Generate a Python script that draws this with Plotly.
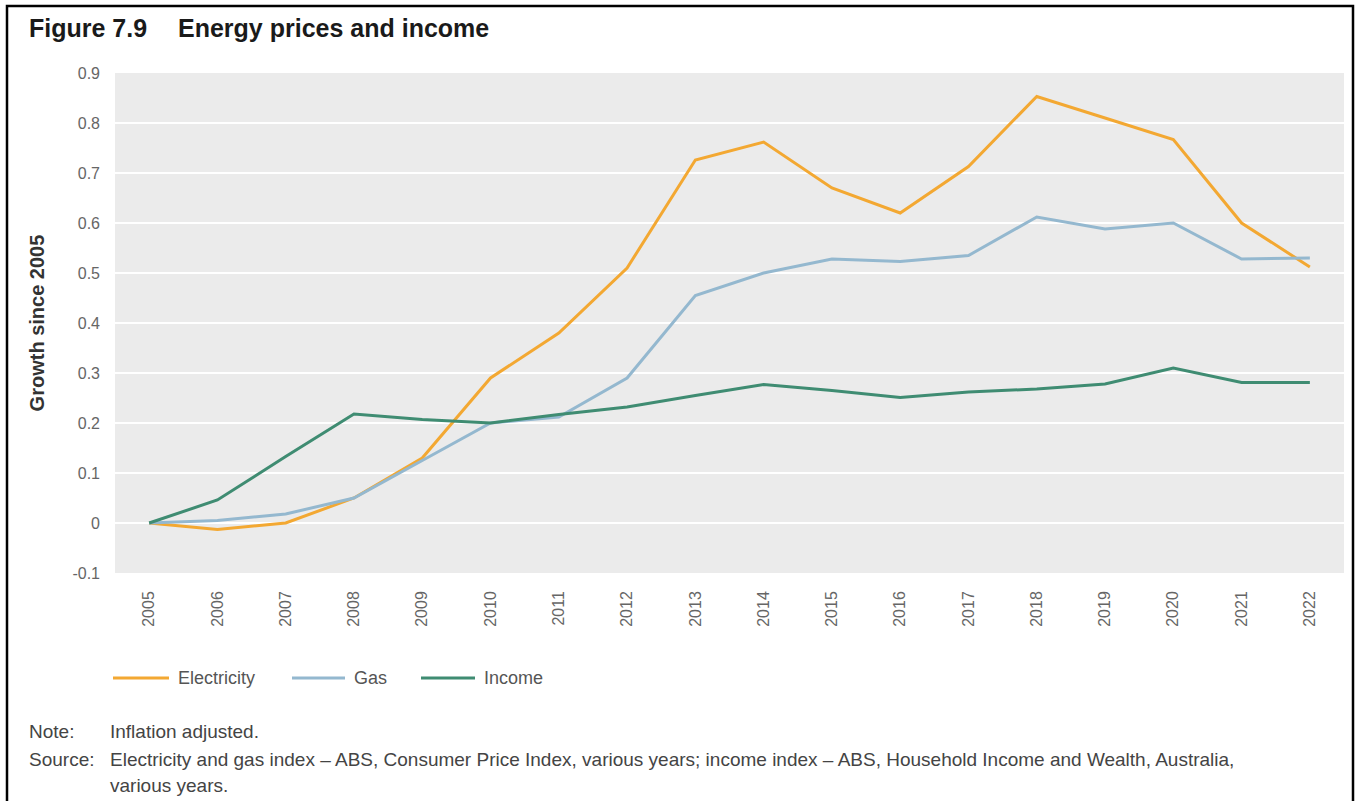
import plotly.graph_objects as go

# Figure 7.9 – Energy prices and income (growth since 2005, inflation adjusted)
years = ["2005", "2006", "2007", "2008", "2009", "2010", "2011", "2012", "2013",
         "2014", "2015", "2016", "2017", "2018", "2019", "2020", "2021", "2022"]

electricity = [0.0, -0.013, 0.0, 0.05, 0.13, 0.29, 0.38, 0.51, 0.726,
               0.762, 0.67, 0.62, 0.713, 0.853, 0.81, 0.767, 0.60, 0.512]
gas = [0.0, 0.005, 0.018, 0.05, 0.125, 0.20, 0.212, 0.29, 0.455,
       0.50, 0.528, 0.523, 0.535, 0.612, 0.588, 0.60, 0.528, 0.53]
income = [0.0, 0.046, 0.133, 0.218, 0.207, 0.20, 0.217, 0.232, 0.255,
          0.277, 0.265, 0.251, 0.262, 0.268, 0.278, 0.31, 0.281, 0.281]

y_ticks = [-0.1, 0, 0.1, 0.2, 0.3, 0.4, 0.5, 0.6, 0.7, 0.8, 0.9]
y_tick_text = ["-0.1", "0", "0.1", "0.2", "0.3", "0.4", "0.5", "0.6", "0.7", "0.8", "0.9"]

series = [
    ("Electricity", electricity, "#F3A832"),
    ("Gas", gas, "#94B8CF"),
    ("Income", income, "#3F8C72"),
]

FONT = "Liberation Sans, Arial, sans-serif"

W, H = 1359, 801
L, R, T, B = 115, 15, 73, 228
PW, PH = W - L - R, H - T - B


def px(x):
    return (x - L) / PW


def py(y):
    return (H - B - y) / PH


fig = go.Figure()
for name, vals, color in series:
    fig.add_trace(go.Scatter(
        x=years, y=vals, name=name, mode="lines",
        line=dict(color=color, width=3), showlegend=False,
    ))

fig.update_layout(
    width=W, height=H,
    margin=dict(l=L, r=R, t=T, b=B),
    paper_bgcolor="white",
    plot_bgcolor="#EBEBEB",
    font=dict(family=FONT, color="#666666", size=16),
    showlegend=False,
    xaxis=dict(
        type="category", range=[-0.5, len(years) - 0.5], tickangle=-90,
        showgrid=False, zeroline=False, showline=False, ticks="",
        ticklabelstandoff=14, tickfont=dict(size=16, color="#666666"),
    ),
    yaxis=dict(
        range=[-0.1, 0.9], tickvals=y_ticks, ticktext=y_tick_text,
        showgrid=True, gridcolor="white", gridwidth=2, zeroline=False,
        showline=False, ticks="", ticklabelstandoff=14,
        tickfont=dict(size=16, color="#666666"),
        title=dict(text="<b>Growth since 2005</b>", standoff=22,
                   font=dict(size=20, color="#333333")),
    ),
)

# Series key below the axis
key_items = [(113, 169, 176), (292, 345, 352), (421, 475, 482)]
key_y = 678
for (x0, x1, xt), (name, _, color) in zip(key_items, series):
    fig.add_shape(
        type="line", xref="paper", yref="paper",
        x0=px(x0), x1=px(x1), y0=py(key_y), y1=py(key_y),
        line=dict(color=color, width=3),
    )
    fig.add_annotation(
        x=px(xt), y=py(key_y), xref="paper", yref="paper", xanchor="left",
        yanchor="middle", text=name, showarrow=False,
        font=dict(size=18, color="#555555", family=FONT),
    )

# Heading
fig.add_annotation(
    x=px(27), y=py(28), xref="paper", yref="paper", xanchor="left", yanchor="middle",
    text="<b>Figure 7.9</b>", showarrow=False,
    font=dict(size=25, color="#1A1A1A", family=FONT),
)
fig.add_annotation(
    x=px(176), y=py(28), xref="paper", yref="paper", xanchor="left", yanchor="middle",
    text="<b>Energy prices and income</b>", showarrow=False,
    font=dict(size=25, color="#1A1A1A", family=FONT),
)

# Note and source lines
notes = [
    (731, "Note:", "Inflation adjusted."),
    (759, "Source:", "Electricity and gas index – ABS, Consumer Price Index, various years; "
                     "income index – ABS, Household Income and Wealth, Australia,"),
    (785, "", "various years."),
]
for ypix, label, body in notes:
    if label:
        fig.add_annotation(
            x=px(27), y=py(ypix), xref="paper", yref="paper", xanchor="left",
            yanchor="middle", text=label, showarrow=False,
            font=dict(size=19, color="#444444", family=FONT),
        )
    fig.add_annotation(
        x=px(108), y=py(ypix), xref="paper", yref="paper", xanchor="left",
        yanchor="middle", text=body, showarrow=False,
        font=dict(size=19, color="#444444", family=FONT),
    )

# Frame around the figure (left, top and right edges)
fig.add_shape(
    type="path", xref="paper", yref="paper",
    path=f"M {px(7)},{py(801)} L {px(7)},{py(6)} L {px(1353)},{py(6)} L {px(1353)},{py(801)}",
    line=dict(color="black", width=2.5),
)

fig.write_html("out.html")
